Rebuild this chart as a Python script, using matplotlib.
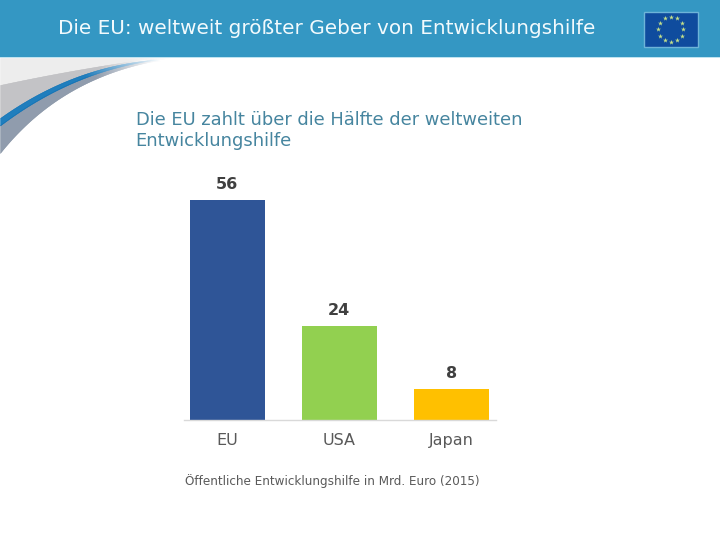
#!/usr/bin/env python3
"""EU development aid slide: bar chart with header band and swoosh."""

import matplotlib
matplotlib.use("Agg")
import matplotlib.pyplot as plt
import numpy as np
from matplotlib.patches import Rectangle

W, H = 720, 540

countries = ["EU", "USA", "Japan"]
aid = [56, 24, 8]
bar_colors = ["#2f5597", "#92d050", "#ffc000"]

title = "Die EU: weltweit größter Geber von Entwicklungshilfe"
subtitle = "Die EU zahlt über die Hälfte der weltweiten\nEntwicklungshilfe"
note = "Öffentliche Entwicklungshilfe in Mrd. Euro (2015)"

plt.rcParams["font.family"] = ["DejaVu Sans"]


def curve(x, x0, y0, xc, yc, x1, y1):
    """y of a quadratic bezier between two ends, looked up along x."""
    t = np.linspace(0, 1, 200)
    bx = (1 - t) ** 2 * x0 + 2 * t * (1 - t) * xc + t ** 2 * x1
    by = (1 - t) ** 2 * y0 + 2 * t * (1 - t) * yc + t ** 2 * y1
    return np.interp(x, bx, by)


def band(ax, x, top, bottom, rgb, fade_from, fade_to):
    """Vertical slices that fade to white towards the right end."""
    for i in range(len(x) - 1):
        a = np.clip((x[i] - fade_from) / (fade_to - fade_from), 0, 1)
        c = np.array(rgb) * (1 - a) + np.array([1, 1, 1]) * a
        ax.fill_between(x[i:i + 2], top[i:i + 2], bottom[i:i + 2],
                        color=c, lw=0.3, zorder=1)


fig = plt.figure(figsize=(W / 100, H / 100), dpi=100)
bg = fig.add_axes([0, 0, 1, 1])
bg.set_xlim(0, W)
bg.set_ylim(H, 0)
bg.axis("off")

# swoosh under the header
x = np.linspace(0, 172, 173)
edge_light = curve(x, 0, 85, 70, 70, 140, 60)
edge_blue_top = curve(x, 0, 118, 70, 68, 150, 60)
edge_blue_bot = curve(x, 0, 125, 70, 72, 150, 60)
edge_dark = curve(x, 0, 153, 62, 75, 165, 59)
top = np.full_like(x, 58.0)
band(bg, x, top, edge_light, (0.925, 0.925, 0.925), 125, 172)
band(bg, x, edge_light, edge_blue_top, (0.75, 0.75, 0.76), 100, 145)
band(bg, x, edge_blue_bot, edge_dark, (0.53, 0.58, 0.65), 95, 155)
band(bg, x, edge_blue_top, edge_blue_bot + 0.5, (0.05, 0.45, 0.72), 85, 160)

# header band and flag
bg.add_patch(Rectangle((0, 0), W, 57, color="#3497c3", lw=0, zorder=3))
bg.add_patch(Rectangle((0, 57), W, 1.2, color="#bfe3f0", lw=0, zorder=3))
bg.text(58, 29, title, color="#f2fafd", fontsize=14.4, va="center", zorder=4)
bg.add_patch(Rectangle((644, 11.5), 54, 35.5, fc="#0f4c9e", ec="#6db4d8",
                       lw=1, zorder=4))
angles = np.arange(12) * np.pi / 6
bg.scatter(670.8 + 12.5 * np.cos(angles), 29.3 + 12.5 * np.sin(angles),
           s=14, marker="*", color="#c4e08a", lw=0, zorder=5)

bg.text(135.5, 130.5, subtitle, color="#46859f", fontsize=12.9,
        va="center", linespacing=1.26)
bg.text(185, 481, note, color="#5a5a5a", fontsize=8.67, va="center")

# chart area, placed so the baseline sits at y=420
ax = fig.add_axes([184 / W, 1 - 420 / H, 312 / W, 230 / H])
ax.patch.set_alpha(0)
pos = np.arange(len(countries))
ax.bar(pos, aid, width=0.668, color=bar_colors)
for p, v in zip(pos, aid):
    ax.annotate(str(v), (p, v), xytext=(0, 15), textcoords="offset pixels",
                ha="center", va="center", fontsize=11.5, fontweight="bold",
                color="#404040")
ax.set_xlim(-0.383, 2.395)
ax.set_ylim(0, 230 / 3.93)
ax.set_yticks([])
ax.set_xticks(pos, countries)
ax.tick_params(axis="x", length=0, pad=9.5, labelsize=11.5, labelcolor="#595959")
for side in ("top", "left", "right"):
    ax.spines[side].set_visible(False)
ax.spines["bottom"].set_color("#d9d9d9")
ax.spines["bottom"].set_linewidth(1)

fig.savefig("out.png", dpi=100)
plt.close(fig)
